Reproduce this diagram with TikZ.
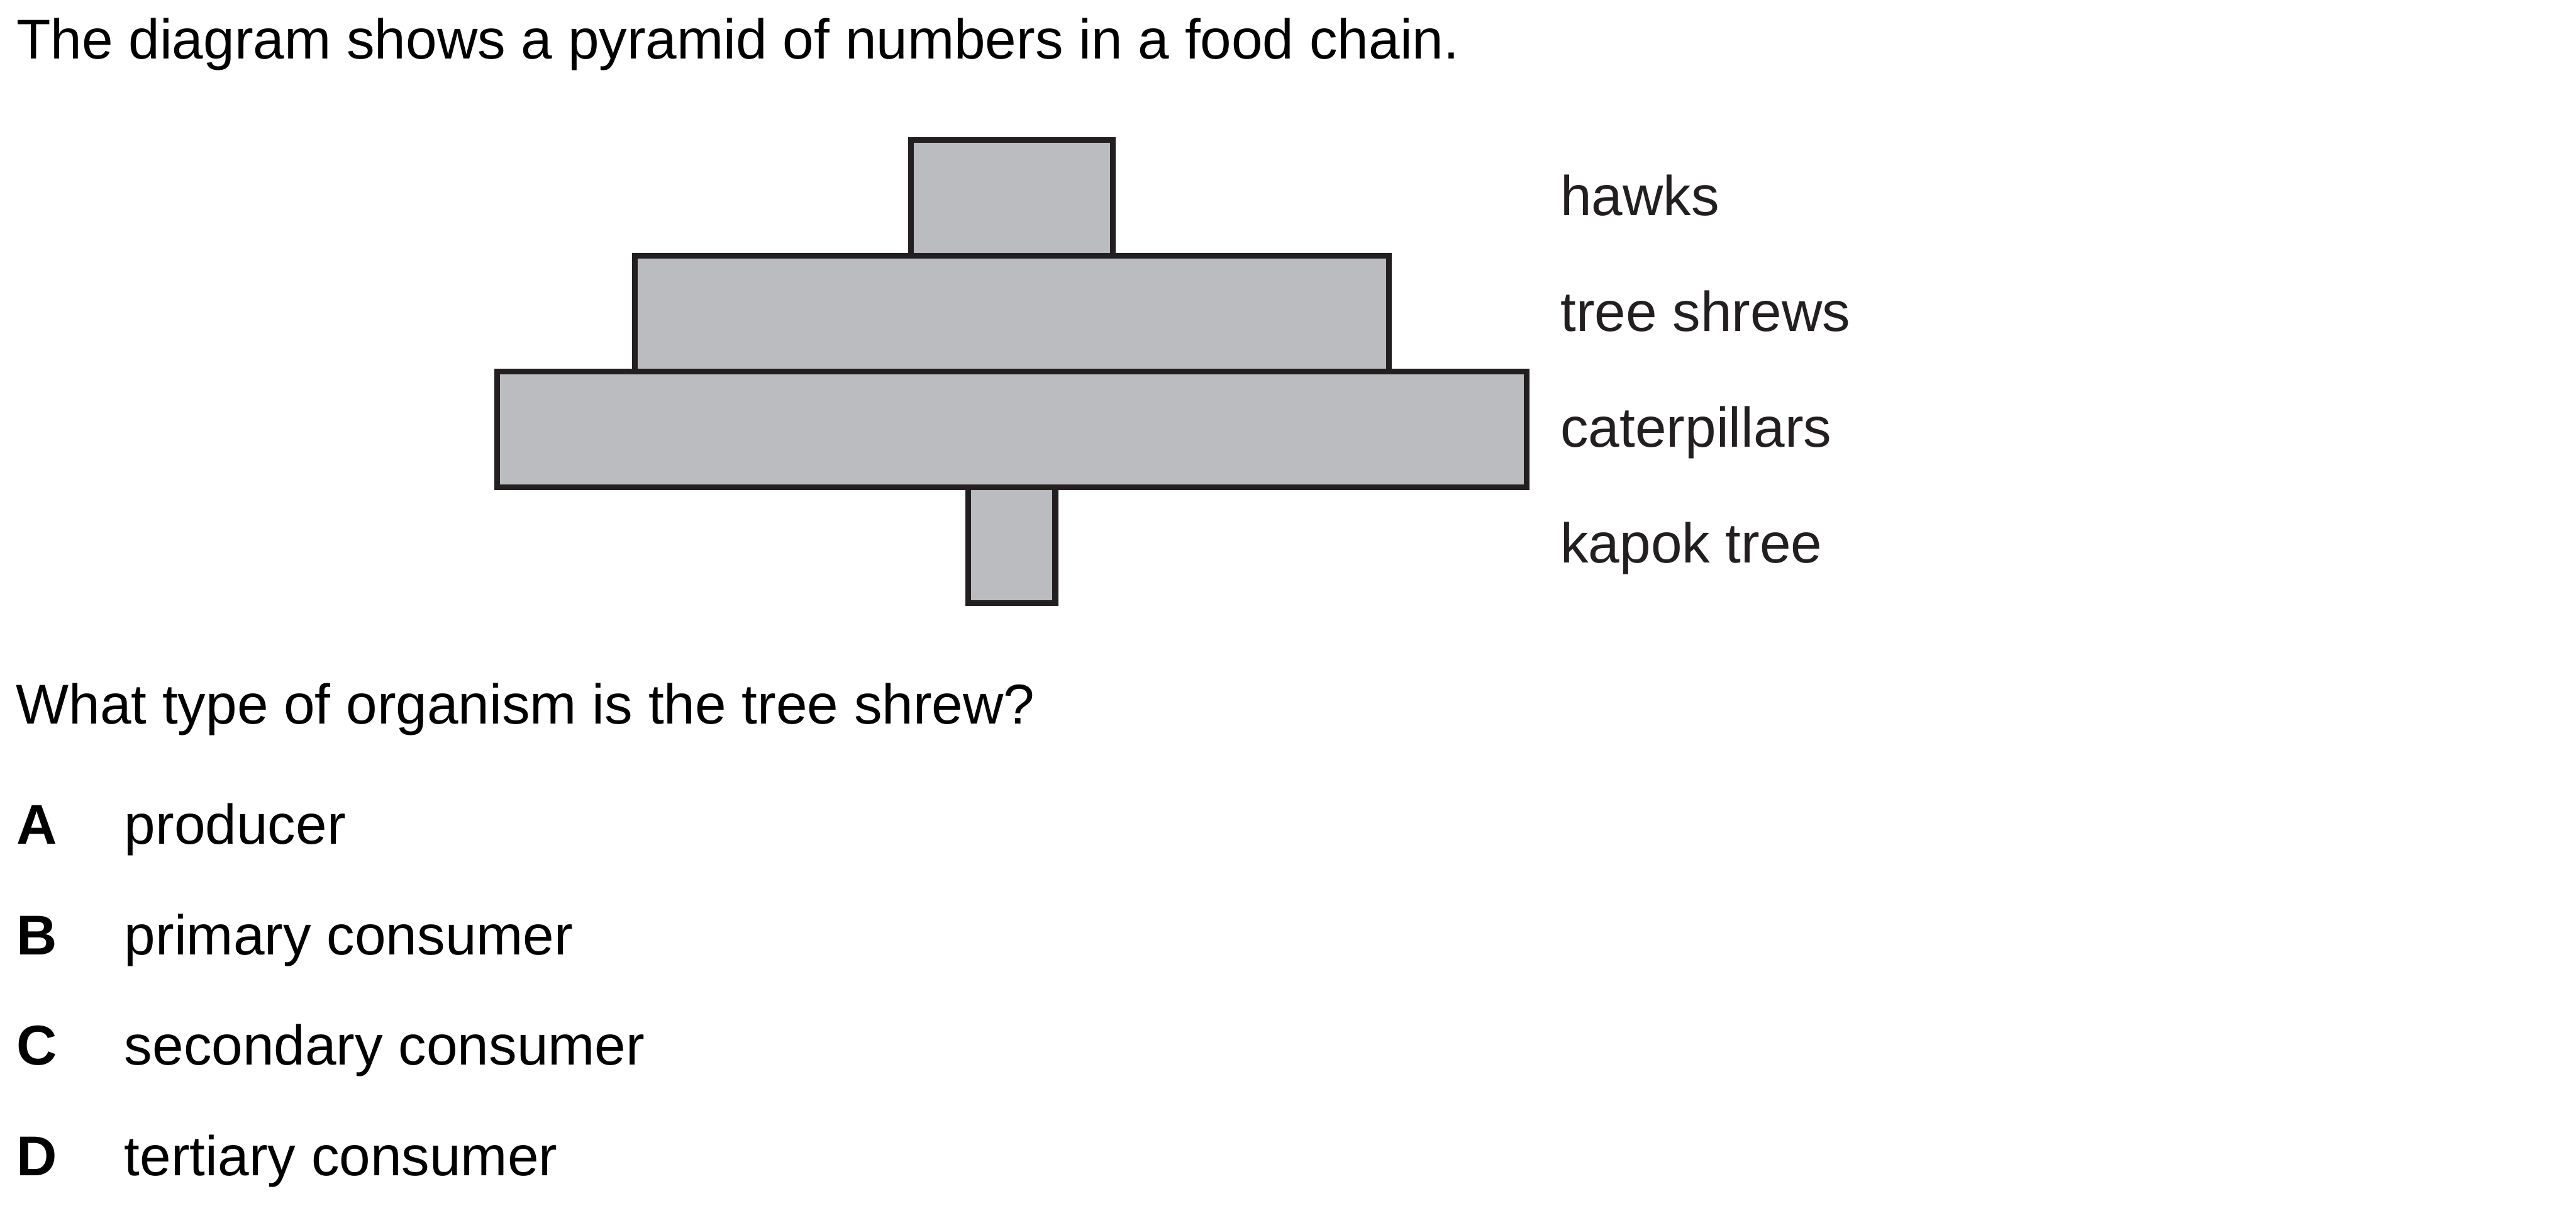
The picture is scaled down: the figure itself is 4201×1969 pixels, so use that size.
\documentclass[tikz,border=0pt]{standalone}
\usepackage{fontspec}
\setmainfont{Liberation Sans}
\usetikzlibrary{positioning}
\definecolor{pyrgray}{HTML}{BBBCC0}
\definecolor{pyrink}{HTML}{231F20}
\tikzset{
  level/.style={draw=pyrink,fill=pyrgray,line width=2.65pt,minimum height=1.8875cm,inner sep=0pt,outer sep=0pt},
  txt/.style={anchor=base west,inner sep=0pt,outer sep=0pt,font=\fontsize{26}{31}\selectfont},
  lbl/.style={txt,text=pyrink},
}
\begin{document}
\begin{tikzpicture}[x=0.01cm,y=-0.01cm]
  \useasboundingbox (0,0) rectangle (4201,1969);
  \node[txt] (intro) at (27,96) {The diagram shows a pyramid of numbers in a food chain.};
  % pyramid levels, centred on x=1650
  \foreach \name/\w/\y/\txt in {cater/16.78/699.9/caterpillars, kapok/1.42/888.6/kapok tree, shrews/12.29/511.1/tree shrews, hawks/3.29/322.4/hawks} {
    \node[level,minimum width=\w cm] (\name) at (1650,\y) {};
    \node[lbl] (\name-lbl) at (2545,\y+29) {\txt};
  }
  \node[txt] (question) at (26,1180) {What type of organism is the tree shrew?};
  \foreach \opt/\txt [count=\i] in {A/producer, B/primary consumer, C/secondary consumer, D/tertiary consumer} {
    \node[txt] (opt\opt) at (27,1376+180*\i-180) {\bfseries\opt};
    \node[txt] (ans\opt) at (203,1376+180*\i-180) {\txt};
  }
\end{tikzpicture}
\end{document}
